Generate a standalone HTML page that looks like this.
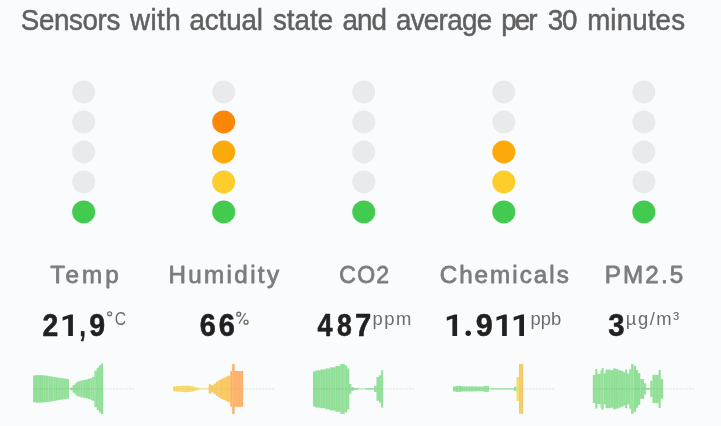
<!DOCTYPE html>
<html><head><meta charset="utf-8"><title>Sensors</title>
<style>
html,body{margin:0;padding:0;background:#fafbfd;}
body{width:721px;height:426px;overflow:hidden;font-family:"Liberation Sans",sans-serif;}
svg{display:block}
text{font-family:"Liberation Sans",sans-serif;}
.title{font-size:28.6px;fill:#606060;stroke:#606060;stroke-width:0.5px;}
.lab{font-size:24.2px;font-weight:normal;fill:#7c7c7c;stroke:#7c7c7c;stroke-width:0.8px;stroke-linejoin:round;}
.val{font-size:30.9px;font-weight:bold;fill:#212121;stroke:#212121;stroke-width:0.55px;stroke-linejoin:round;}
.one{fill:#212121;}
.unit{font-size:18.4px;fill:#6c6c6c;}
</style></head>
<body>
<svg width="721" height="426" viewBox="0 0 721 426">
<rect width="721" height="426" fill="#fafbfd"/>
<defs>
<filter id="soft" x="-2%" y="-2%" width="104%" height="104%" color-interpolation-filters="sRGB"><feGaussianBlur stdDeviation="0.35"/></filter>
<filter id="softc" x="-2%" y="-2%" width="104%" height="104%" color-interpolation-filters="sRGB"><feGaussianBlur stdDeviation="0.4"/></filter>
</defs>
<g filter="url(#soft)">
<text class="title" transform="translate(20.78,30.2) scale(0.97,1)" textLength="102.57" lengthAdjust="spacing">Sensors</text>
<text class="title" transform="translate(130.01,30.2) scale(0.97,1)" textLength="52.15" lengthAdjust="spacing">with</text>
<text class="title" transform="translate(189.55,30.2) scale(0.97,1)" textLength="75.71" lengthAdjust="spacing">actual</text>
<text class="title" transform="translate(272.97,30.2) scale(0.97,1)" textLength="62.03" lengthAdjust="spacing">state</text>
<text class="title" transform="translate(342.60,30.2) scale(0.97,1)" textLength="45.81" lengthAdjust="spacing">and</text>
<text class="title" transform="translate(395.91,30.2) scale(0.97,1)" textLength="99.22" lengthAdjust="spacing">average</text>
<text class="title" transform="translate(501.37,30.2) scale(0.97,1)" textLength="37.24" lengthAdjust="spacing">per</text>
<text class="title" transform="translate(547.70,30.2) scale(0.97,1)" textLength="30.62" lengthAdjust="spacing">30</text>
<text class="title" transform="translate(587.13,30.2) scale(0.97,1)" textLength="100.94" lengthAdjust="spacing">minutes</text>
<text class="lab" transform="translate(50.28,282.8) scale(1.0,1)" textLength="68.56" lengthAdjust="spacing">Temp</text>
<text class="lab" transform="translate(168.52,282.8) scale(1.0,1)" textLength="110.51" lengthAdjust="spacing">Humidity</text>
<text class="lab" transform="translate(339.30,282.8) scale(0.95,1)" textLength="52.42" lengthAdjust="spacing">CO2</text>
<text class="lab" transform="translate(439.64,282.8) scale(1.0,1)" textLength="129.18" lengthAdjust="spacing">Chemicals</text>
<text class="lab" transform="translate(604.69,282.8) scale(1.0,1)" textLength="78.55" lengthAdjust="spacing">PM2.5</text>
<text class="val" transform="translate(42.38,336.2) scale(1.0,1)" textLength="15.73" lengthAdjust="spacingAndGlyphs">2</text>
<text class="val" transform="translate(79.47,336.2) scale(1.0,1)" textLength="6.19" lengthAdjust="spacingAndGlyphs">,</text>
<text class="val" transform="translate(89.33,336.2) scale(1.0,1)" textLength="15.82" lengthAdjust="spacingAndGlyphs">9</text>
<text class="unit" transform="translate(114.72,325) scale(1.0,1)" textLength="11.39" lengthAdjust="spacingAndGlyphs">C</text>
<text class="val" transform="translate(199.77,336.2) scale(1.0,1)" textLength="16.04" lengthAdjust="spacingAndGlyphs">6</text>
<text class="val" transform="translate(218.64,336.2) scale(1.0,1)" textLength="16.11" lengthAdjust="spacingAndGlyphs">6</text>
<text class="val" transform="translate(317.56,336.2) scale(1.0,1)" textLength="15.03" lengthAdjust="spacingAndGlyphs">4</text>
<text class="val" transform="translate(337.12,336.2) scale(1.0,1)" textLength="14.80" lengthAdjust="spacingAndGlyphs">8</text>
<text class="val" transform="translate(355.12,336.2) scale(1.0,1)" textLength="16.28" lengthAdjust="spacingAndGlyphs">7</text>
<text class="unit" transform="translate(372.52,325) scale(1.0,1)" textLength="38.83" lengthAdjust="spacing">ppm</text>
<text class="val" transform="translate(475.79,336.2) scale(1.0,1)" textLength="16.97" lengthAdjust="spacingAndGlyphs">9</text>
<text class="unit" transform="translate(530.52,325) scale(1.0,1)" textLength="30.78" lengthAdjust="spacing">ppb</text>
<text class="val" transform="translate(608.33,336.2) scale(1.0,1)" textLength="16.28" lengthAdjust="spacingAndGlyphs">3</text>
<text class="unit" transform="translate(625.80,325) scale(1.0,1)" textLength="53.44" lengthAdjust="spacing">µg/m³</text>
<polygon class="one" points="72.90,314.40 72.90,335.90 68.20,335.90 68.20,318.50 62.60,320.80 62.60,316.90 70.60,314.40"/>
<polygon class="one" points="457.10,314.40 457.10,335.90 452.40,335.90 452.40,318.50 446.80,320.80 446.80,316.90 454.80,314.40"/>
<polygon class="one" points="506.80,314.40 506.80,335.90 502.10,335.90 502.10,318.50 496.50,320.80 496.50,316.90 504.50,314.40"/>
<polygon class="one" points="524.00,314.40 524.00,335.90 519.30,335.90 519.30,318.50 513.70,320.80 513.70,316.90 521.70,314.40"/>
<circle class="one" cx="468.2" cy="333.25" r="2.7"/>
<g fill="none" stroke="#6c6c6c" stroke-width="1.4" stroke-linecap="butt"><ellipse cx="238.75" cy="314.25" rx="1.95" ry="2.05"/><ellipse cx="246.05" cy="322.15" rx="1.95" ry="2.05"/><line x1="245.6" y1="313.0" x2="238.9" y2="323.6" stroke-width="1.25"/><circle cx="109.65" cy="313.8" r="1.95" stroke-width="1.3"/></g>
</g>
<g filter="url(#soft)">
<circle cx="83.65" cy="91.9" r="11.5" fill="#e9eaec"/>
<circle cx="83.65" cy="121.9" r="11.5" fill="#e9eaec"/>
<circle cx="83.65" cy="151.9" r="11.5" fill="#e9eaec"/>
<circle cx="83.65" cy="181.9" r="11.5" fill="#e9eaec"/>
<circle cx="83.65" cy="211.9" r="11.5" fill="#43cb50"/>
<circle cx="223.70000000000002" cy="91.9" r="11.5" fill="#e9eaec"/>
<circle cx="223.70000000000002" cy="121.9" r="11.5" fill="#fc8706"/>
<circle cx="223.70000000000002" cy="151.9" r="11.5" fill="#fca90b"/>
<circle cx="223.70000000000002" cy="181.9" r="11.5" fill="#fdce2b"/>
<circle cx="223.70000000000002" cy="211.9" r="11.5" fill="#43cb50"/>
<circle cx="363.75" cy="91.9" r="11.5" fill="#e9eaec"/>
<circle cx="363.75" cy="121.9" r="11.5" fill="#e9eaec"/>
<circle cx="363.75" cy="151.9" r="11.5" fill="#e9eaec"/>
<circle cx="363.75" cy="181.9" r="11.5" fill="#e9eaec"/>
<circle cx="363.75" cy="211.9" r="11.5" fill="#43cb50"/>
<circle cx="503.80000000000007" cy="91.9" r="11.5" fill="#e9eaec"/>
<circle cx="503.80000000000007" cy="121.9" r="11.5" fill="#e9eaec"/>
<circle cx="503.80000000000007" cy="151.9" r="11.5" fill="#fca90b"/>
<circle cx="503.80000000000007" cy="181.9" r="11.5" fill="#fdce2b"/>
<circle cx="503.80000000000007" cy="211.9" r="11.5" fill="#43cb50"/>
<circle cx="643.85" cy="91.9" r="11.5" fill="#e9eaec"/>
<circle cx="643.85" cy="121.9" r="11.5" fill="#e9eaec"/>
<circle cx="643.85" cy="151.9" r="11.5" fill="#e9eaec"/>
<circle cx="643.85" cy="181.9" r="11.5" fill="#e9eaec"/>
<circle cx="643.85" cy="211.9" r="11.5" fill="#43cb50"/>
</g>
<g filter="url(#softc)">
<rect x="33.10" y="375.52" width="2.85" height="26.76" fill="#90df97"/>
<rect x="35.64" y="375.10" width="2.85" height="27.61" fill="#90df97"/>
<rect x="38.19" y="375.10" width="2.85" height="27.61" fill="#90df97"/>
<rect x="40.73" y="375.24" width="2.85" height="27.32" fill="#90df97"/>
<rect x="43.28" y="375.52" width="2.85" height="26.76" fill="#90df97"/>
<rect x="45.82" y="375.80" width="2.85" height="26.20" fill="#90df97"/>
<rect x="48.37" y="376.22" width="2.85" height="25.35" fill="#90df97"/>
<rect x="50.92" y="376.65" width="2.85" height="24.51" fill="#90df97"/>
<rect x="53.46" y="377.07" width="2.85" height="23.66" fill="#90df97"/>
<rect x="56.01" y="377.49" width="2.85" height="22.82" fill="#90df97"/>
<rect x="58.55" y="377.91" width="2.85" height="21.97" fill="#90df97"/>
<rect x="61.10" y="378.34" width="2.85" height="21.13" fill="#90df97"/>
<rect x="63.64" y="378.62" width="2.85" height="20.56" fill="#90df97"/>
<rect x="66.19" y="379.04" width="2.85" height="19.72" fill="#90df97"/>
<rect x="68.73" y="388.48" width="1.99" height="0.85" fill="#90df97"/>
<rect x="70.42" y="387.49" width="2.41" height="2.82" fill="#90df97"/>
<rect x="72.54" y="385.10" width="2.41" height="7.61" fill="#90df97"/>
<rect x="74.65" y="383.27" width="2.41" height="11.27" fill="#90df97"/>
<rect x="76.76" y="381.44" width="3.12" height="14.93" fill="#90df97"/>
<rect x="79.58" y="380.59" width="3.12" height="16.62" fill="#90df97"/>
<rect x="82.39" y="380.03" width="3.12" height="17.75" fill="#90df97"/>
<rect x="85.21" y="379.46" width="3.12" height="18.87" fill="#90df97"/>
<rect x="88.03" y="378.76" width="2.41" height="20.28" fill="#90df97"/>
<rect x="90.14" y="378.05" width="2.41" height="21.69" fill="#90df97"/>
<rect x="92.25" y="376.93" width="2.41" height="23.94" fill="#90df97"/>
<rect x="94.37" y="370.59" width="2.69" height="36.62" fill="#90df97"/>
<rect x="96.76" y="367.77" width="2.41" height="42.25" fill="#90df97"/>
<rect x="98.87" y="365.38" width="2.41" height="47.04" fill="#90df97"/>
<rect x="100.99" y="363.55" width="2.13" height="50.70" fill="#90df97"/>
<line x1="45.50" y1="375.52" x2="45.50" y2="402.28" stroke="#fff" stroke-opacity="0.16" stroke-width="0.7"/>
<line x1="48.00" y1="375.80" x2="48.00" y2="402.00" stroke="#fff" stroke-opacity="0.16" stroke-width="0.7"/>
<line x1="50.50" y1="376.22" x2="50.50" y2="401.58" stroke="#fff" stroke-opacity="0.16" stroke-width="0.7"/>
<line x1="53.00" y1="376.65" x2="53.00" y2="401.15" stroke="#fff" stroke-opacity="0.16" stroke-width="0.7"/>
<line x1="55.50" y1="377.07" x2="55.50" y2="400.73" stroke="#fff" stroke-opacity="0.16" stroke-width="0.7"/>
<line x1="58.00" y1="377.49" x2="58.00" y2="400.31" stroke="#fff" stroke-opacity="0.16" stroke-width="0.7"/>
<line x1="60.50" y1="377.91" x2="60.50" y2="399.89" stroke="#fff" stroke-opacity="0.16" stroke-width="0.7"/>
<line x1="63.00" y1="378.34" x2="63.00" y2="399.46" stroke="#fff" stroke-opacity="0.16" stroke-width="0.7"/>
<line x1="65.50" y1="378.62" x2="65.50" y2="399.18" stroke="#fff" stroke-opacity="0.16" stroke-width="0.7"/>
<line x1="68.00" y1="379.04" x2="68.00" y2="398.76" stroke="#fff" stroke-opacity="0.16" stroke-width="0.7"/>
<line x1="73.00" y1="385.10" x2="73.00" y2="392.70" stroke="#fff" stroke-opacity="0.16" stroke-width="0.7"/>
<line x1="75.50" y1="383.27" x2="75.50" y2="394.53" stroke="#fff" stroke-opacity="0.16" stroke-width="0.7"/>
<line x1="78.00" y1="381.44" x2="78.00" y2="396.36" stroke="#fff" stroke-opacity="0.16" stroke-width="0.7"/>
<line x1="80.50" y1="380.59" x2="80.50" y2="397.21" stroke="#fff" stroke-opacity="0.16" stroke-width="0.7"/>
<line x1="83.00" y1="380.03" x2="83.00" y2="397.77" stroke="#fff" stroke-opacity="0.16" stroke-width="0.7"/>
<line x1="90.50" y1="378.05" x2="90.50" y2="399.75" stroke="#fff" stroke-opacity="0.16" stroke-width="0.7"/>
<line x1="93.00" y1="376.93" x2="93.00" y2="400.87" stroke="#fff" stroke-opacity="0.16" stroke-width="0.7"/>
<line x1="95.50" y1="370.59" x2="95.50" y2="407.21" stroke="#fff" stroke-opacity="0.16" stroke-width="0.7"/>
<line x1="98.00" y1="367.77" x2="98.00" y2="410.03" stroke="#fff" stroke-opacity="0.16" stroke-width="0.7"/>
<line x1="100.50" y1="365.38" x2="100.50" y2="412.42" stroke="#fff" stroke-opacity="0.16" stroke-width="0.7"/>
<line x1="33.0" y1="388.9" x2="103.4" y2="388.9" stroke="#000" stroke-opacity="0.075" stroke-width="1.1" stroke-dasharray="1.9 1.3"/>
<line x1="103.4" y1="388.9" x2="134.0" y2="388.9" stroke="#000" stroke-opacity="0.1" stroke-width="1.1" stroke-dasharray="1.9 1.3"/>
<rect x="173.10" y="386.36" width="2.77" height="5.07" fill="#f7da6a"/>
<rect x="175.57" y="386.08" width="2.77" height="5.63" fill="#f7da6a"/>
<rect x="178.04" y="385.94" width="2.77" height="5.92" fill="#f7da6a"/>
<rect x="180.51" y="385.80" width="2.77" height="6.20" fill="#f7da6a"/>
<rect x="182.98" y="385.66" width="2.77" height="6.48" fill="#f7da6a"/>
<rect x="185.45" y="385.66" width="2.77" height="6.48" fill="#f7da6a"/>
<rect x="187.93" y="385.80" width="2.77" height="6.20" fill="#f7da6a"/>
<rect x="190.40" y="386.08" width="2.77" height="5.63" fill="#f7da6a"/>
<rect x="192.87" y="386.79" width="2.77" height="4.23" fill="#f7da6a"/>
<rect x="195.34" y="387.63" width="2.77" height="2.54" fill="#f7da6a"/>
<rect x="197.81" y="388.20" width="2.77" height="1.41" fill="#f7da6a"/>
<rect x="200.28" y="388.48" width="8.75" height="0.85" fill="#f7da6a"/>
<rect x="208.73" y="384.25" width="2.69" height="9.30" fill="#f7c960"/>
<rect x="211.13" y="385.38" width="2.69" height="7.04" fill="#f7c960"/>
<rect x="213.52" y="383.69" width="2.69" height="10.42" fill="#f7c960"/>
<rect x="215.92" y="381.86" width="2.69" height="14.08" fill="#f7c960"/>
<rect x="218.31" y="380.17" width="2.69" height="17.46" fill="#f7c960"/>
<rect x="220.70" y="378.76" width="2.69" height="20.28" fill="#f7c960"/>
<rect x="223.10" y="377.63" width="2.69" height="22.54" fill="#f7c960"/>
<rect x="225.49" y="376.51" width="2.69" height="24.79" fill="#f7c960"/>
<rect x="227.89" y="375.52" width="2.69" height="26.76" fill="#f7c960"/>
<rect x="230.28" y="371.01" width="12.84" height="35.77" fill="#fbb168"/>
<rect x="232.11" y="363.97" width="2.55" height="49.86" fill="#fbb168"/>
<line x1="210.50" y1="384.25" x2="210.50" y2="393.55" stroke="#fff" stroke-opacity="0.16" stroke-width="0.7"/>
<line x1="213.00" y1="385.38" x2="213.00" y2="392.42" stroke="#fff" stroke-opacity="0.16" stroke-width="0.7"/>
<line x1="215.50" y1="383.69" x2="215.50" y2="394.11" stroke="#fff" stroke-opacity="0.16" stroke-width="0.7"/>
<line x1="218.00" y1="381.86" x2="218.00" y2="395.94" stroke="#fff" stroke-opacity="0.16" stroke-width="0.7"/>
<line x1="233.00" y1="371.01" x2="233.00" y2="406.79" stroke="#fff" stroke-opacity="0.16" stroke-width="0.7"/>
<line x1="235.50" y1="371.01" x2="235.50" y2="406.79" stroke="#fff" stroke-opacity="0.16" stroke-width="0.7"/>
<line x1="238.00" y1="371.01" x2="238.00" y2="406.79" stroke="#fff" stroke-opacity="0.16" stroke-width="0.7"/>
<line x1="240.50" y1="371.01" x2="240.50" y2="406.79" stroke="#fff" stroke-opacity="0.16" stroke-width="0.7"/>
<line x1="233.00" y1="363.97" x2="233.00" y2="413.83" stroke="#fff" stroke-opacity="0.16" stroke-width="0.7"/>
<line x1="173.0" y1="388.9" x2="243.4" y2="388.9" stroke="#000" stroke-opacity="0.045" stroke-width="1.1" stroke-dasharray="1.9 1.3"/>
<line x1="243.4" y1="388.9" x2="274.0" y2="388.9" stroke="#000" stroke-opacity="0.1" stroke-width="1.1" stroke-dasharray="1.9 1.3"/>
<rect x="312.96" y="371.29" width="2.98" height="35.21" fill="#90df97"/>
<rect x="315.63" y="370.31" width="4.53" height="37.18" fill="#90df97"/>
<rect x="319.86" y="369.60" width="5.93" height="38.59" fill="#90df97"/>
<rect x="325.49" y="368.48" width="4.53" height="40.85" fill="#90df97"/>
<rect x="329.72" y="367.35" width="5.93" height="43.10" fill="#90df97"/>
<rect x="335.35" y="366.08" width="5.23" height="45.63" fill="#90df97"/>
<rect x="340.28" y="363.97" width="4.53" height="49.86" fill="#90df97"/>
<rect x="344.51" y="365.52" width="2.69" height="46.76" fill="#90df97"/>
<rect x="346.90" y="368.48" width="2.41" height="40.85" fill="#90df97"/>
<rect x="349.01" y="383.97" width="2.41" height="9.86" fill="#90df97"/>
<rect x="351.13" y="387.07" width="2.84" height="3.66" fill="#90df97"/>
<rect x="353.66" y="388.05" width="4.53" height="1.69" fill="#90df97"/>
<rect x="357.89" y="388.55" width="8.05" height="0.70" fill="#90df97"/>
<rect x="365.63" y="388.20" width="8.75" height="1.41" fill="#90df97"/>
<rect x="374.08" y="385.80" width="2.69" height="6.20" fill="#90df97"/>
<rect x="376.48" y="376.93" width="2.84" height="23.94" fill="#90df97"/>
<rect x="379.01" y="375.24" width="2.41" height="27.32" fill="#90df97"/>
<rect x="381.13" y="370.17" width="1.99" height="37.46" fill="#90df97"/>
<line x1="318.00" y1="370.31" x2="318.00" y2="407.49" stroke="#fff" stroke-opacity="0.16" stroke-width="0.7"/>
<line x1="320.50" y1="369.60" x2="320.50" y2="408.20" stroke="#fff" stroke-opacity="0.16" stroke-width="0.7"/>
<line x1="323.00" y1="369.60" x2="323.00" y2="408.20" stroke="#fff" stroke-opacity="0.16" stroke-width="0.7"/>
<line x1="328.00" y1="368.48" x2="328.00" y2="409.32" stroke="#fff" stroke-opacity="0.16" stroke-width="0.7"/>
<line x1="330.50" y1="367.35" x2="330.50" y2="410.45" stroke="#fff" stroke-opacity="0.16" stroke-width="0.7"/>
<line x1="333.00" y1="367.35" x2="333.00" y2="410.45" stroke="#fff" stroke-opacity="0.16" stroke-width="0.7"/>
<line x1="338.00" y1="366.08" x2="338.00" y2="411.72" stroke="#fff" stroke-opacity="0.16" stroke-width="0.7"/>
<line x1="343.00" y1="363.97" x2="343.00" y2="413.83" stroke="#fff" stroke-opacity="0.16" stroke-width="0.7"/>
<line x1="345.50" y1="365.52" x2="345.50" y2="412.28" stroke="#fff" stroke-opacity="0.16" stroke-width="0.7"/>
<line x1="348.00" y1="368.48" x2="348.00" y2="409.32" stroke="#fff" stroke-opacity="0.16" stroke-width="0.7"/>
<line x1="350.50" y1="383.97" x2="350.50" y2="393.83" stroke="#fff" stroke-opacity="0.16" stroke-width="0.7"/>
<line x1="353.00" y1="387.07" x2="353.00" y2="390.73" stroke="#fff" stroke-opacity="0.16" stroke-width="0.7"/>
<line x1="375.50" y1="385.80" x2="375.50" y2="392.00" stroke="#fff" stroke-opacity="0.16" stroke-width="0.7"/>
<line x1="378.00" y1="376.93" x2="378.00" y2="400.87" stroke="#fff" stroke-opacity="0.16" stroke-width="0.7"/>
<line x1="380.50" y1="375.24" x2="380.50" y2="402.56" stroke="#fff" stroke-opacity="0.16" stroke-width="0.7"/>
<line x1="313.0" y1="388.9" x2="383.4" y2="388.9" stroke="#000" stroke-opacity="0.075" stroke-width="1.1" stroke-dasharray="1.9 1.3"/>
<line x1="383.4" y1="388.9" x2="414.0" y2="388.9" stroke="#000" stroke-opacity="0.1" stroke-width="1.1" stroke-dasharray="1.9 1.3"/>
<rect x="453.10" y="386.40" width="2.85" height="5.00" fill="#90df97"/>
<rect x="455.64" y="385.90" width="2.85" height="6.00" fill="#90df97"/>
<rect x="458.19" y="385.90" width="2.85" height="6.00" fill="#90df97"/>
<rect x="460.73" y="386.30" width="2.85" height="5.20" fill="#90df97"/>
<rect x="463.28" y="386.40" width="2.85" height="5.00" fill="#90df97"/>
<rect x="465.82" y="386.40" width="2.85" height="5.00" fill="#90df97"/>
<rect x="468.37" y="386.40" width="2.85" height="5.00" fill="#90df97"/>
<rect x="470.92" y="386.40" width="2.85" height="5.00" fill="#90df97"/>
<rect x="473.46" y="386.40" width="2.85" height="5.00" fill="#90df97"/>
<rect x="476.01" y="386.60" width="2.85" height="4.60" fill="#90df97"/>
<rect x="478.55" y="386.60" width="2.85" height="4.60" fill="#90df97"/>
<rect x="481.10" y="386.60" width="2.85" height="4.60" fill="#90df97"/>
<rect x="483.64" y="385.90" width="2.85" height="6.00" fill="#90df97"/>
<rect x="486.19" y="385.90" width="2.85" height="6.00" fill="#90df97"/>
<rect x="489.44" y="388.27" width="24.95" height="1.27" fill="#90df97"/>
<rect x="514.08" y="386.79" width="2.69" height="4.23" fill="#90df97"/>
<rect x="516.48" y="376.93" width="2.84" height="23.94" fill="#f7da6a"/>
<rect x="519.01" y="363.97" width="4.10" height="49.86" fill="#f7c960"/>
<line x1="465.50" y1="386.40" x2="465.50" y2="391.40" stroke="#fff" stroke-opacity="0.16" stroke-width="0.7"/>
<line x1="468.00" y1="386.40" x2="468.00" y2="391.40" stroke="#fff" stroke-opacity="0.16" stroke-width="0.7"/>
<line x1="470.50" y1="386.40" x2="470.50" y2="391.40" stroke="#fff" stroke-opacity="0.16" stroke-width="0.7"/>
<line x1="473.00" y1="386.40" x2="473.00" y2="391.40" stroke="#fff" stroke-opacity="0.16" stroke-width="0.7"/>
<line x1="475.50" y1="386.40" x2="475.50" y2="391.40" stroke="#fff" stroke-opacity="0.16" stroke-width="0.7"/>
<line x1="478.00" y1="386.60" x2="478.00" y2="391.20" stroke="#fff" stroke-opacity="0.16" stroke-width="0.7"/>
<line x1="480.50" y1="386.60" x2="480.50" y2="391.20" stroke="#fff" stroke-opacity="0.16" stroke-width="0.7"/>
<line x1="483.00" y1="386.60" x2="483.00" y2="391.20" stroke="#fff" stroke-opacity="0.16" stroke-width="0.7"/>
<line x1="485.50" y1="385.90" x2="485.50" y2="391.90" stroke="#fff" stroke-opacity="0.16" stroke-width="0.7"/>
<line x1="488.00" y1="385.90" x2="488.00" y2="391.90" stroke="#fff" stroke-opacity="0.16" stroke-width="0.7"/>
<line x1="515.50" y1="386.79" x2="515.50" y2="391.01" stroke="#fff" stroke-opacity="0.16" stroke-width="0.7"/>
<line x1="518.00" y1="376.93" x2="518.00" y2="400.87" stroke="#fff" stroke-opacity="0.16" stroke-width="0.7"/>
<line x1="520.50" y1="363.97" x2="520.50" y2="413.83" stroke="#fff" stroke-opacity="0.16" stroke-width="0.7"/>
<line x1="453.0" y1="388.9" x2="523.4" y2="388.9" stroke="#000" stroke-opacity="0.045" stroke-width="1.1" stroke-dasharray="1.9 1.3"/>
<line x1="523.4" y1="388.9" x2="554.0" y2="388.9" stroke="#000" stroke-opacity="0.1" stroke-width="1.1" stroke-dasharray="1.9 1.3"/>
<rect x="592.82" y="374.82" width="2.69" height="28.17" fill="#90df97"/>
<rect x="595.21" y="369.18" width="2.13" height="39.44" fill="#90df97"/>
<rect x="597.04" y="373.83" width="3.82" height="30.14" fill="#90df97"/>
<rect x="600.56" y="370.17" width="1.29" height="37.46" fill="#90df97"/>
<rect x="601.55" y="368.20" width="2.13" height="41.41" fill="#90df97"/>
<rect x="603.38" y="373.41" width="2.55" height="30.99" fill="#90df97"/>
<rect x="605.63" y="369.60" width="5.23" height="38.59" fill="#90df97"/>
<rect x="610.56" y="370.17" width="2.84" height="37.46" fill="#90df97"/>
<rect x="613.10" y="368.48" width="2.84" height="40.85" fill="#90df97"/>
<rect x="615.63" y="369.18" width="2.84" height="39.44" fill="#90df97"/>
<rect x="618.17" y="370.17" width="2.69" height="37.46" fill="#90df97"/>
<rect x="620.56" y="371.01" width="2.84" height="35.77" fill="#90df97"/>
<rect x="623.10" y="372.42" width="2.13" height="32.96" fill="#90df97"/>
<rect x="624.93" y="369.60" width="2.27" height="38.59" fill="#90df97"/>
<rect x="626.90" y="373.41" width="2.55" height="30.99" fill="#90df97"/>
<rect x="629.15" y="369.18" width="2.27" height="39.44" fill="#90df97"/>
<rect x="631.13" y="363.97" width="2.55" height="49.86" fill="#90df97"/>
<rect x="633.38" y="365.94" width="2.69" height="45.92" fill="#90df97"/>
<rect x="635.77" y="370.17" width="2.41" height="37.46" fill="#90df97"/>
<rect x="637.89" y="372.98" width="2.41" height="31.83" fill="#90df97"/>
<rect x="640.00" y="379.04" width="4.10" height="19.72" fill="#90df97"/>
<rect x="643.80" y="383.27" width="2.41" height="11.27" fill="#90df97"/>
<rect x="645.92" y="388.05" width="4.67" height="1.69" fill="#90df97"/>
<rect x="650.28" y="380.87" width="2.41" height="16.06" fill="#90df97"/>
<rect x="652.39" y="374.82" width="6.50" height="28.17" fill="#90df97"/>
<rect x="658.59" y="369.89" width="2.13" height="38.03" fill="#90df97"/>
<rect x="660.42" y="379.04" width="2.69" height="19.72" fill="#90df97"/>
<line x1="598.00" y1="373.83" x2="598.00" y2="403.97" stroke="#fff" stroke-opacity="0.16" stroke-width="0.7"/>
<line x1="603.00" y1="368.20" x2="603.00" y2="409.60" stroke="#fff" stroke-opacity="0.16" stroke-width="0.7"/>
<line x1="608.00" y1="369.60" x2="608.00" y2="408.20" stroke="#fff" stroke-opacity="0.16" stroke-width="0.7"/>
<line x1="625.50" y1="369.60" x2="625.50" y2="408.20" stroke="#fff" stroke-opacity="0.16" stroke-width="0.7"/>
<line x1="628.00" y1="373.41" x2="628.00" y2="404.39" stroke="#fff" stroke-opacity="0.16" stroke-width="0.7"/>
<line x1="630.50" y1="369.18" x2="630.50" y2="408.62" stroke="#fff" stroke-opacity="0.16" stroke-width="0.7"/>
<line x1="633.00" y1="363.97" x2="633.00" y2="413.83" stroke="#fff" stroke-opacity="0.16" stroke-width="0.7"/>
<line x1="640.50" y1="379.04" x2="640.50" y2="398.76" stroke="#fff" stroke-opacity="0.16" stroke-width="0.7"/>
<line x1="643.00" y1="379.04" x2="643.00" y2="398.76" stroke="#fff" stroke-opacity="0.16" stroke-width="0.7"/>
<line x1="645.50" y1="383.27" x2="645.50" y2="394.53" stroke="#fff" stroke-opacity="0.16" stroke-width="0.7"/>
<line x1="653.00" y1="374.82" x2="653.00" y2="402.98" stroke="#fff" stroke-opacity="0.16" stroke-width="0.7"/>
<line x1="655.50" y1="374.82" x2="655.50" y2="402.98" stroke="#fff" stroke-opacity="0.16" stroke-width="0.7"/>
<line x1="658.00" y1="374.82" x2="658.00" y2="402.98" stroke="#fff" stroke-opacity="0.16" stroke-width="0.7"/>
<line x1="593.0" y1="388.9" x2="663.4" y2="388.9" stroke="#000" stroke-opacity="0.075" stroke-width="1.1" stroke-dasharray="1.9 1.3"/>
<line x1="663.4" y1="388.9" x2="694.0" y2="388.9" stroke="#000" stroke-opacity="0.1" stroke-width="1.1" stroke-dasharray="1.9 1.3"/>
</g>
</svg>
</body></html>
